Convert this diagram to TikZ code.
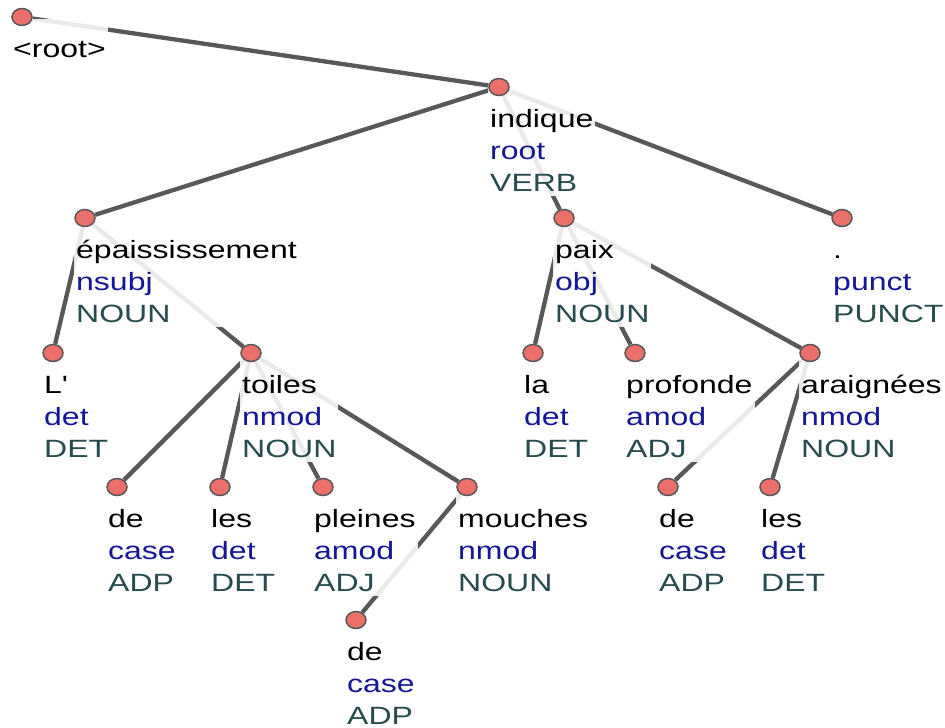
\documentclass[tikz,border=0pt]{standalone}
\usepackage{fontspec}
\setmainfont{Liberation Sans}[FakeStretch=1.28]
\usetikzlibrary{positioning,shapes.geometric}

\definecolor{dotfill}{RGB}{237,111,106}
\definecolor{edgegray}{RGB}{88,88,88}
\definecolor{relblue}{RGB}{22,22,150}
\definecolor{posteal}{RGB}{40,75,78}

\pgfdeclarelayer{edges}
\pgfdeclarelayer{labels}
\pgfsetlayers{edges,labels,main}

\newcommand{\udlabel}[3]{\rule{0pt}{36pt}#1\\\textcolor{relblue}{#2}\\\textcolor{posteal}{#3}\rule[-3pt]{0pt}{3pt}}

\begin{document}
\begin{tikzpicture}[x=1pt, y=-1pt,
    tok/.style={draw=edgegray, line width=1.5pt, ellipse, fill=dotfill, minimum width=20pt, minimum height=17pt, inner sep=0pt},
    lab/.style={fill=white, fill opacity=0.87, text opacity=1, align=left, inner xsep=2pt, inner ysep=2pt, font=\fontsize{25}{32}\selectfont},
    dep/.style={draw=edgegray, line width=4.3pt}]
    \useasboundingbox (0,0) rectangle (945,728);

    % Tokens
    \node[tok] (root) at (22,17) {};
    \node[tok] (indique) at (499,87) {};
    \node[tok] (epaiss) at (85,218) {};
    \node[tok] (paix) at (564,218) {};
    \node[tok] (point) at (842,218) {};
    \node[tok] (lart) at (53,353) {};
    \node[tok] (toiles) at (251,353) {};
    \node[tok] (la) at (533,353) {};
    \node[tok] (profonde) at (635,353) {};
    \node[tok] (araignees) at (810,353) {};
    \node[tok] (de-a) at (117,487) {};
    \node[tok] (les-a) at (220,487) {};
    \node[tok] (pleines) at (323,487) {};
    \node[tok] (mouches) at (467,487) {};
    \node[tok] (de-b) at (668,487) {};
    \node[tok] (les-b) at (770,487) {};
    \node[tok] (de-c) at (356,620) {};

    % Labels under each token
    \begin{pgfonlayer}{labels}
    \node[lab, below right=2pt and -11pt of root.center] (root-l) {\rule{0pt}{36pt}<root>\rule[-3pt]{0pt}{3pt}};
    \node[lab, below right=2pt and -11pt of indique.center] (indique-l) {\udlabel{indique}{root}{VERB}};
    \node[lab, below right=2pt and -11pt of epaiss.center] (epaiss-l) {\udlabel{épaississement}{nsubj}{NOUN}};
    \node[lab, below right=2pt and -11pt of paix.center] (paix-l) {\udlabel{paix}{obj}{NOUN}};
    \node[lab, below right=2pt and -11pt of point.center] (point-l) {\udlabel{.}{punct}{PUNCT}};
    \node[lab, below right=2pt and -11pt of lart.center] (lart-l) {\udlabel{L\textquotesingle}{det}{DET}};
    \node[lab, below right=2pt and -11pt of toiles.center] (toiles-l) {\udlabel{toiles}{nmod}{NOUN}};
    \node[lab, below right=2pt and -11pt of la.center] (la-l) {\udlabel{la}{det}{DET}};
    \node[lab, below right=2pt and -11pt of profonde.center] (profonde-l) {\udlabel{profonde}{amod}{ADJ}};
    \node[lab, below right=2pt and -11pt of araignees.center] (araignees-l) {\udlabel{araignées}{nmod}{NOUN}};
    \node[lab, below right=2pt and -11pt of de-a.center] (de-a-l) {\udlabel{de}{case}{ADP}};
    \node[lab, below right=2pt and -11pt of les-a.center] (les-a-l) {\udlabel{les}{det}{DET}};
    \node[lab, below right=2pt and -11pt of pleines.center] (pleines-l) {\udlabel{pleines}{amod}{ADJ}};
    \node[lab, below right=2pt and -11pt of mouches.center] (mouches-l) {\udlabel{mouches}{nmod}{NOUN}};
    \node[lab, below right=2pt and -11pt of de-b.center] (de-b-l) {\udlabel{de}{case}{ADP}};
    \node[lab, below right=2pt and -11pt of les-b.center] (les-b-l) {\udlabel{les}{det}{DET}};
    \node[lab, below right=2pt and -11pt of de-c.center] (de-c-l) {\udlabel{de}{case}{ADP}};
    \end{pgfonlayer}

    % Dependencies
    \begin{pgfonlayer}{edges}
    \draw[dep] (root) -- (indique);
    \draw[dep] (indique) -- (epaiss);
    \draw[dep] (indique) -- (paix);
    \draw[dep] (indique) -- (point);
    \draw[dep] (epaiss) -- (lart);
    \draw[dep] (epaiss) -- (toiles);
    \draw[dep] (toiles) -- (de-a);
    \draw[dep] (toiles) -- (les-a);
    \draw[dep] (toiles) -- (pleines);
    \draw[dep] (toiles) -- (mouches);
    \draw[dep] (mouches) -- (de-c);
    \draw[dep] (paix) -- (la);
    \draw[dep] (paix) -- (profonde);
    \draw[dep] (paix) -- (araignees);
    \draw[dep] (araignees) -- (de-b);
    \draw[dep] (araignees) -- (les-b);
    \end{pgfonlayer}
\end{tikzpicture}
\end{document}
